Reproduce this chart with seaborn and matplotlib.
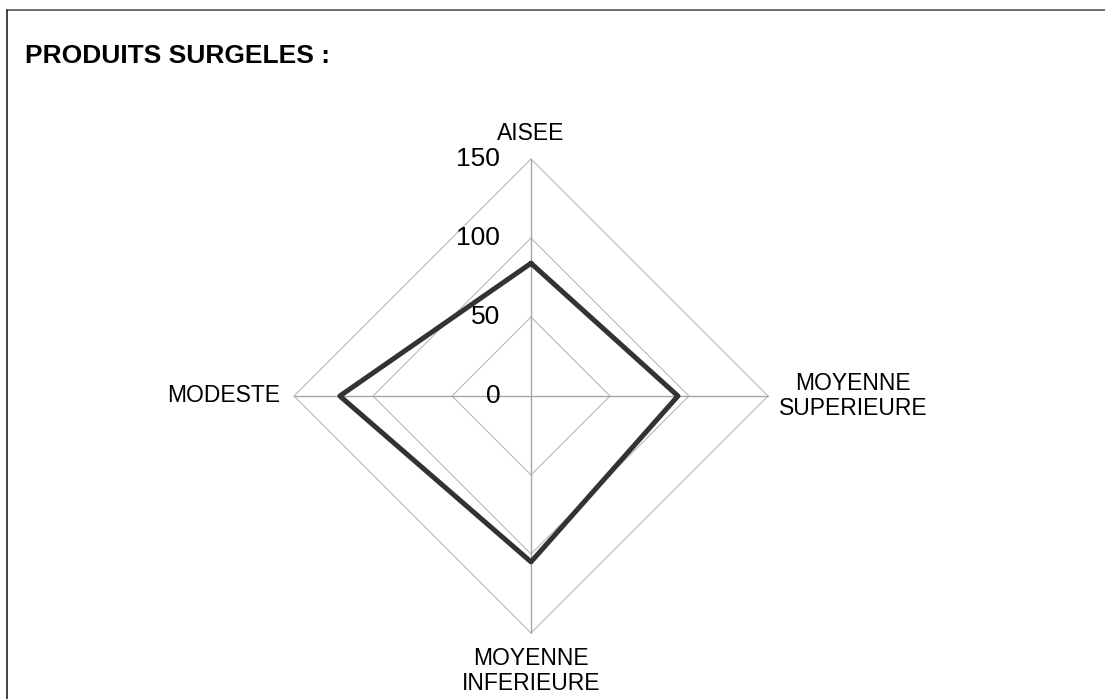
import numpy as np
import pandas as pd
import matplotlib
matplotlib.use("Agg")
import matplotlib.pyplot as plt
import seaborn as sns

categories = ["AISEE", "MOYENNE\nSUPERIEURE", "MOYENNE\nINFERIEURE", "MODESTE"]
valeurs = [84, 93, 105, 121]
graduations = [0, 50, 100, 150]
titre = "PRODUITS SURGELES :"

sns.set_theme(style="white")
plt.rcParams["font.family"] = ["Liberation Sans", "DejaVu Sans"]
plt.rcParams["text.color"] = "black"

# Angles : haut, droite, bas, gauche
angles = np.deg2rad([90, 0, -90, 180])
rmax = graduations[-1]
px = 237 / rmax  # pixels par unité

fig = plt.figure(figsize=(11.05, 6.99), dpi=100)
ax = fig.add_axes([0, 0, 1, 1])
ax.set_xlim(-531 / px, (1105 - 531) / px)
ax.set_ylim((396 - 699) / px, 396 / px)
ax.axis("off")

# Grille en losange
for g in graduations[1:]:
    gx = list(g * np.cos(angles)) + [g * np.cos(angles[0])]
    gy = list(g * np.sin(angles)) + [g * np.sin(angles[0])]
    ax.plot(gx, gy, color="#b8b8b8", lw=0.8, zorder=1)

# Axes radiaux
for a in angles:
    ax.plot([0, rmax * np.cos(a)], [0, rmax * np.sin(a)], color="#a6a6a6", lw=1.0, zorder=1)

# Série
df = pd.DataFrame({
    "cat": categories + [categories[0]],
    "x": [v * np.cos(a) for v, a in zip(valeurs, angles)] + [valeurs[0] * np.cos(angles[0])],
    "y": [v * np.sin(a) for v, a in zip(valeurs, angles)] + [valeurs[0] * np.sin(angles[0])],
})
sns.lineplot(data=df, x="x", y="y", sort=False, estimator=None, color="#333333", lw=3.6, ax=ax, zorder=3)
ax.set_xlabel("")
ax.set_ylabel("")

# Graduations
for g in graduations:
    ax.text(-19.5, g, str(g), ha="right", va="center", fontsize=19, color="black", zorder=4)

# Étiquettes des catégories
ax.text(0, rmax + 16, categories[0], ha="center", va="center", fontsize=16.5)
ax.text(rmax + 54, 0, categories[1], ha="center", va="center", fontsize=16.5, linespacing=1.15)
ax.text(0, -rmax - 24, categories[2], ha="center", va="center", fontsize=16.5, linespacing=1.15)
ax.text(-rmax - 9, 0, categories[3], ha="right", va="center", fontsize=16.5)

# Titre
fig.text(25 / 1105, 1 - 56 / 699, titre, ha="left", va="center", fontsize=19, fontweight="bold")

# Cadre (haut et gauche visibles)
fig.add_artist(plt.Line2D([7 / 1105, 1], [1 - 10 / 699, 1 - 10 / 699], color="#555555", lw=1.2, transform=fig.transFigure))
fig.add_artist(plt.Line2D([7 / 1105, 7 / 1105], [0, 1 - 10 / 699], color="#222222", lw=1.2, transform=fig.transFigure))

fig.savefig("out.png", dpi=100)
